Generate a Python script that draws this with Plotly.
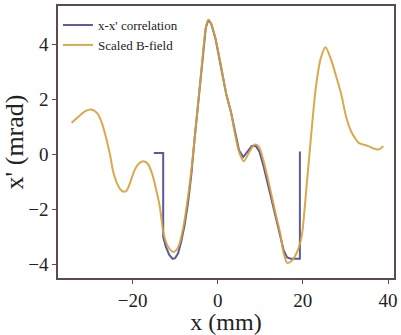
import plotly.graph_objects as go

# Scaled B-field (orange)
bfield_x = [-34.3, -32.5, -31.0, -29.7, -28.3, -27.2, -26.2, -25.3, -24.5, -23.5, -22.5, -21.6,
            -20.6, -19.6, -18.5, -17.4, -16.4, -15.4, -14.5, -13.6, -12.6, -11.5, -10.3, -9.2,
            -8.2, -7.2, -6.2, -5.4, -4.5, -3.5, -2.8, -2.2, -1.5, -0.5, 0.8, 2.0, 3.1, 4.0, 5.0,
            6.1, 7.3, 8.6, 9.6, 10.7, 11.8, 12.8, 13.8, 14.7, 15.5, 16.3, 17.2, 18.5, 19.7, 20.4,
            20.9, 21.6, 22.3, 23.1, 24.2, 25.3, 26.5, 27.8, 29.0, 30.1, 31.3, 32.2, 33.1, 34.3,
            35.4, 36.5, 37.8, 38.9]
bfield_y = [1.15, 1.4, 1.58, 1.63, 1.5, 1.15, 0.6, 0.0, -0.65, -1.1, -1.33, -1.35,
            -1.05, -0.6, -0.33, -0.25, -0.35, -0.7, -1.25, -1.9, -2.95, -3.4, -3.55, -3.35,
            -2.75, -1.8, -0.6, 0.6, 2.0, 3.6, 4.6, 4.9, 4.75, 4.2, 3.2, 2.2, 1.55, 0.8, 0.1,
            -0.25, 0.05, 0.35, 0.3, -0.2, -0.9, -1.6, -2.3, -2.9, -3.6, -3.95, -3.9, -3.6, -3.0, -2.0,
            -1.1, 0.1, 1.3, 2.5, 3.5, 3.9, 3.5, 2.85, 2.2, 1.4, 0.85, 0.6, 0.42, 0.35,
            0.3, 0.22, 0.18, 0.3]

# x-x' correlation (blue)
corr_x = [-15.0, -12.8, -12.8, -12.2, -11.4, -10.6, -10.0, -9.3, -8.6, -7.8, -7.0, -6.2,
          -5.4, -4.5, -3.5, -2.8, -2.2, -1.5, -0.5, 0.8, 2.0, 3.1, 4.0, 5.0, 6.0, 7.0,
          8.0, 9.0, 9.8, 10.8, 11.8, 12.8, 13.8, 14.7, 15.5, 16.3, 17.2, 18.3, 19.3, 19.3]
corr_y = [0.05, 0.05, -3.0, -3.35, -3.65, -3.8, -3.78, -3.6, -3.2, -2.6, -1.8, -0.75,
          0.6, 2.0, 3.6, 4.6, 4.9, 4.75, 4.2, 3.2, 2.2, 1.55, 0.85, 0.15, -0.1, 0.1,
          0.3, 0.3, 0.1, -0.45, -1.1, -1.75, -2.45, -3.0, -3.5, -3.75, -3.8, -3.8, -3.8, 0.1]

x_ticks = [-20, 0, 20, 40]
y_ticks = [-4, -2, 0, 2, 4]

font_family = "Liberation Serif, Times New Roman, serif"
axis_color = "#5e4b4b"

fig = go.Figure()
fig.add_trace(go.Scatter(x=corr_x, y=corr_y, mode="lines", name="x-x' correlation",
                         line=dict(color="#5a5a9c", width=2)))
fig.add_trace(go.Scatter(x=bfield_x, y=bfield_y, mode="lines", name="Scaled B-field",
                         line=dict(color="#d6a03a", width=2, shape="spline", smoothing=0.8),
                         opacity=0.9))

fig.update_layout(
    width=401, height=335,
    margin=dict(l=54, r=5, t=4, b=52),
    paper_bgcolor="white", plot_bgcolor="white",
    font=dict(family=font_family, color="#222222"),
    showlegend=True,
    legend=dict(x=0.0, y=0.985, xanchor="left", yanchor="top",
                bgcolor="rgba(0,0,0,0)", font=dict(size=13, family=font_family),
                tracegroupgap=0, itemwidth=30),
    xaxis=dict(range=[-37.5, 41.4], tickvals=x_ticks, ticktext=[str(v).replace("-", "\u2212") for v in x_ticks],
               showgrid=False, zeroline=False, showline=True, mirror=True,
               linecolor=axis_color, linewidth=1.5, ticks="outside", ticklen=4,
               tickcolor=axis_color, tickfont=dict(size=19),
               title=dict(text="x (mm)", font=dict(size=24), standoff=4)),
    yaxis=dict(range=[-4.5, 5.4], tickvals=y_ticks, ticktext=[str(v).replace("-", "\u2212") for v in y_ticks],
               showgrid=False, zeroline=False, showline=True, mirror=True,
               linecolor=axis_color, linewidth=1.5, ticks="outside", ticklen=4,
               tickcolor=axis_color, tickfont=dict(size=19),
               title=dict(text="x' (mrad)", font=dict(size=26), standoff=6)),
)

fig.write_html("out.html")
